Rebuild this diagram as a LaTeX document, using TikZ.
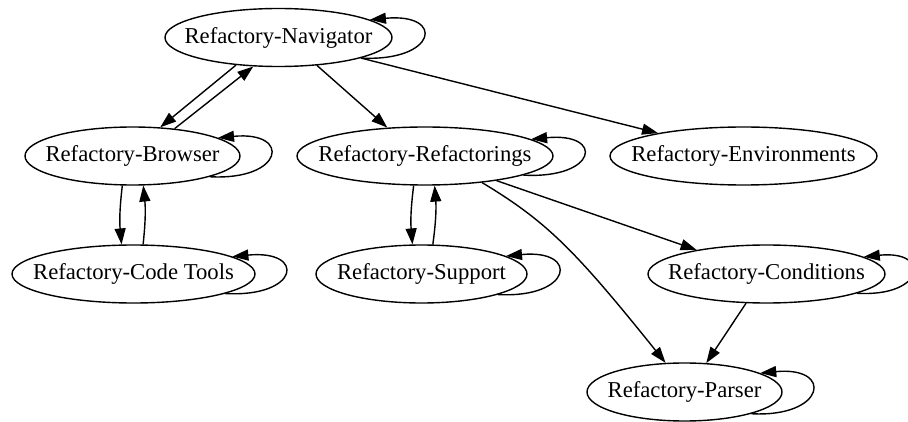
\documentclass[tikz,border=0pt]{standalone}
\usepackage{fontspec}
\setmainfont{Liberation Serif}
\usetikzlibrary{shapes.geometric,arrows.meta}
\newcommand\lbl[1]{\makebox[0pt]{#1}}
\tikzset{
  ell/.style={ellipse, draw, line width=1.4pt, inner sep=0pt, minimum height=58pt,
    font=\fontsize{22.7}{27}\selectfont},
  edge/.style={line width=1.4pt, -{Triangle[length=16pt,width=11pt]}}
}
\begin{document}
\begin{tikzpicture}[x=1pt,y=-1pt]
\useasboundingbox (0,0) rectangle (908,422);
\node[ell, minimum width=227pt] (nav) at (278.5,37.5) {\lbl{Refactory-Navigator}};
\node[ell, minimum width=215pt] (bro) at (132.5,156) {\lbl{Refactory-Browser}};
\node[ell, minimum width=256pt] (ref) at (425,156) {\lbl{Refactory-Refactorings}};
\node[ell, minimum width=267pt] (env) at (743.5,156) {\lbl{Refactory-Environments}};
\node[ell, minimum width=243pt] (ct) at (133.5,274) {\lbl{Refactory-Code Tools}};
\node[ell, minimum width=211pt] (sup) at (421.5,274) {\lbl{Refactory-Support}};
\node[ell, minimum width=237pt] (con) at (766.5,274) {\lbl{Refactory-Conditions}};
\node[ell, minimum width=195pt] (par) at (684.5,392) {\lbl{Refactory-Parser}};
% self loops
\draw[edge] (nav.-14) .. controls +(76,4) and +(76,-7) .. (nav.11.6);
\draw[edge] (bro.-15.3) .. controls +(74,4) and +(74,-7) .. (bro.12.4);
\draw[edge] (ct.-12.4) .. controls +(74,4) and +(74,-7) .. (ct.10.1);
\draw[edge] (ref.-11.3) .. controls +(74,4) and +(74,-7) .. (ref.9.2);
\draw[edge] (sup.-15.8) .. controls +(74,4) and +(74,-7) .. (sup.12.7);
\draw[edge] (con.-12.9) .. controls +(68,4) and +(68,-7) .. (con.10.5);
\draw[edge] (par.-18.2) .. controls +(74,4) and +(74,-7) .. (par.14.5);
% edges
\draw[edge] (nav.213) -- (bro.46.5);
\draw[edge] (bro.33.4) -- (nav.229);
\draw[edge] (nav.-36.5) -- (ref.143);
\draw[edge] (nav.-14.4) -- (env.165.7);
\draw[edge] (bro.251.3) to[bend right=6] (ct.112);
\draw[edge] (ct.72.4) to[bend right=6] (bro.-70.6);
\draw[edge] (ref.249) to[bend right=6] (sup.107);
\draw[edge] (sup.69) to[bend right=6] (ref.-72.8);
\draw[edge] (ref.-19.1) -- (con.161.5);
\draw[edge] (ref.-25.5) .. controls +(65,39) and +(-90,-112) .. (par.123.7);
\draw[edge] (con.235.3) -- (par.53.2);
\end{tikzpicture}
\end{document}
